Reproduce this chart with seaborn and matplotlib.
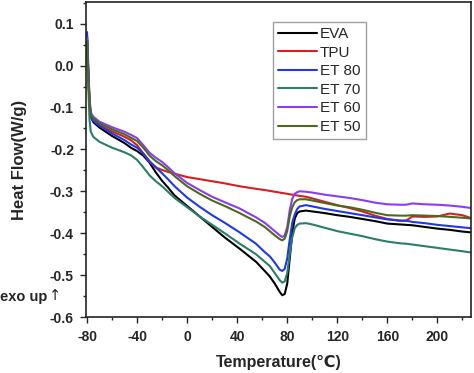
import pandas as pd
import seaborn as sns
import matplotlib.pyplot as plt
from matplotlib.ticker import MultipleLocator

sns.set_theme(style="ticks")
plt.rcParams['font.family'] = ['Liberation Sans', 'DejaVu Sans']

temp = [-80, -79, -78, -77, -75, -70, -60, -50, -45, -40, -35, -30, -25, -20, -15, -10,
        0, 10, 20, 30, 42, 55, 62, 66, 70, 74, 76, 78, 80, 82, 84, 86, 88, 90, 95, 100,
        110, 120, 130, 140, 150, 160, 170, 175, 180, 190, 200, 210, 220, 227]

eva = [0.07, -0.02, -0.09, -0.122, -0.135, -0.148, -0.168, -0.185, -0.196, -0.204, -0.215,
       -0.232, -0.255, -0.275, -0.292, -0.31, -0.335, -0.36, -0.385, -0.41, -0.437, -0.468,
       -0.49, -0.503, -0.52, -0.54, -0.548, -0.545, -0.52, -0.46, -0.4, -0.365, -0.352, -0.348,
       -0.346, -0.348, -0.352, -0.357, -0.361, -0.366, -0.371, -0.377, -0.379, -0.38, -0.381,
       -0.385, -0.389, -0.392, -0.396, -0.398]
tpu = [0.065, -0.02, -0.09, -0.12, -0.13, -0.142, -0.157, -0.17, -0.178, -0.19, -0.21,
       -0.23, -0.243, -0.249, -0.254, -0.258, -0.266, -0.271, -0.276, -0.281, -0.288, -0.294,
       -0.297, -0.299, -0.301, -0.303, -0.304, -0.305, -0.306, -0.307, -0.308, -0.309, -0.31,
       -0.311, -0.313, -0.317, -0.325, -0.333, -0.34, -0.348, -0.358, -0.366, -0.37, -0.37,
       -0.36, -0.361, -0.36, -0.353, -0.357, -0.364]
et80 = [0.08, 0.0, -0.08, -0.12, -0.132, -0.144, -0.162, -0.178, -0.188, -0.196, -0.21,
        -0.228, -0.243, -0.257, -0.272, -0.288, -0.315, -0.337, -0.357, -0.375, -0.398, -0.425,
        -0.445, -0.455, -0.47, -0.487, -0.49, -0.485, -0.46, -0.415, -0.375, -0.355, -0.342,
        -0.336, -0.333, -0.336, -0.342, -0.347, -0.352, -0.357, -0.362, -0.367, -0.37, -0.37,
        -0.373, -0.376, -0.38, -0.383, -0.386, -0.388]
et70 = [0.06, -0.05, -0.13, -0.158, -0.17, -0.182, -0.196, -0.207, -0.214, -0.225, -0.243,
        -0.262, -0.276, -0.288, -0.302, -0.316, -0.338, -0.36, -0.38, -0.4, -0.425, -0.45,
        -0.468, -0.478, -0.495, -0.512, -0.518, -0.515, -0.495, -0.45, -0.41, -0.388, -0.38,
        -0.377, -0.376, -0.379, -0.387, -0.395, -0.401, -0.407, -0.414, -0.42, -0.424, -0.425,
        -0.427, -0.431, -0.435, -0.439, -0.443, -0.446]
et60 = [0.065, -0.02, -0.08, -0.112, -0.122, -0.134, -0.147, -0.158, -0.165, -0.173, -0.19,
        -0.208, -0.22, -0.23, -0.243, -0.257, -0.28, -0.297, -0.313, -0.326, -0.341, -0.362,
        -0.375, -0.385, -0.395, -0.405, -0.409, -0.405, -0.385, -0.345, -0.318, -0.306, -0.302,
        -0.3, -0.301, -0.303, -0.308, -0.312, -0.316, -0.321, -0.327, -0.331, -0.332, -0.332,
        -0.329, -0.331, -0.332, -0.334, -0.337, -0.34]
et50 = [0.06, -0.03, -0.09, -0.117, -0.126, -0.138, -0.152, -0.164, -0.172, -0.18, -0.196,
        -0.215, -0.228, -0.238, -0.25, -0.264, -0.288, -0.306, -0.322, -0.335, -0.352, -0.372,
        -0.385, -0.395, -0.405, -0.414, -0.417, -0.413, -0.395, -0.36, -0.338, -0.326, -0.321,
        -0.319, -0.319, -0.322, -0.328, -0.334, -0.338, -0.344, -0.351, -0.357, -0.358, -0.358,
        -0.357, -0.358, -0.359, -0.361, -0.363, -0.365]

names = ["EVA", "TPU", "ET 80", "ET 70", "ET 60", "ET 50"]
colors = ["#000000", "#d42020", "#2038e8", "#2a7d68", "#8c3cf0", "#4b6a1e"]

frames = []
for name, vals in zip(names, [eva, tpu, et80, et70, et60, et50]):
    frames.append(pd.DataFrame({"Temperature": temp, "HeatFlow": vals, "sample": name}))
df = pd.concat(frames, ignore_index=True)

fig = plt.figure(figsize=(4.74, 3.73), dpi=100)
ax = fig.add_axes([0.181, 0.15, 0.813, 0.845])

sns.lineplot(data=df, x="Temperature", y="HeatFlow", hue="sample",
             palette=dict(zip(names, colors)), hue_order=names,
             linewidth=1.5, ax=ax, sort=False)

ax.set_xlim(-81, 227)
ax.set_ylim(-0.6, 0.152)
ax.xaxis.set_minor_locator(MultipleLocator(20))
ax.yaxis.set_minor_locator(MultipleLocator(0.05))
ax.set_xticks([-80, -40, 0, 40, 80, 120, 160, 200])
ax.set_xticklabels(["-80", "-40", "0", "40", "80", "120", "160", "200"])
ax.set_yticks([0.1, 0.0, -0.1, -0.2, -0.3, -0.4, -0.5, -0.6])
ax.set_yticklabels(["0.1", "0.0", "-0.1", "-0.2", "-0.3", "-0.4", "-0.5", "-0.6"])
ax.tick_params(which="major", direction="out", length=4.5, width=1, labelsize=10, pad=4)
ax.tick_params(axis="x", which="major", pad=5)
ax.tick_params(which="minor", direction="out", length=2.5, width=1)
for lab in ax.get_xticklabels() + ax.get_yticklabels():
    lab.set_fontweight("bold")
for s in ax.spines.values():
    s.set_linewidth(1.2)
    s.set_color("#222222")

ax.set_xlabel("Temperature(℃)", fontsize=11.5, fontweight="bold")
ax.set_ylabel("Heat Flow(W/g)", fontsize=12, fontweight="bold")
ax.xaxis.set_label_coords(0.5, -0.12)
ax.yaxis.set_label_coords(-0.152, 0.5)

fig.text(0.0, 1 - 297 / 373, "exo up", fontsize=10.5, fontweight="bold",
         ha="left", va="center")
fig.text(49 / 474, 1 - 296 / 373, "↑", fontsize=10.5, family=["DejaVu Sans"],
         ha="left", va="center")

leg = ax.legend(loc="upper left", bbox_to_anchor=(0.486, 0.937), borderaxespad=0,
                fontsize=11, frameon=True, fancybox=False, handlelength=2.5,
                handletextpad=0.2, labelspacing=0.3, borderpad=0.35)
leg.get_frame().set_edgecolor("#888888")
leg.get_frame().set_linewidth(1)

fig.savefig("out.png", dpi=100)
